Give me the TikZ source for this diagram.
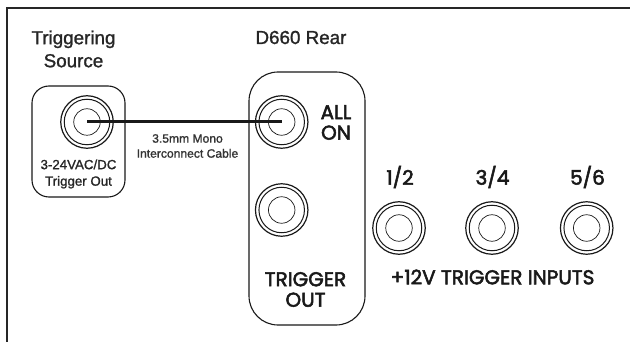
\documentclass[tikz,border=0pt]{standalone}
\usepackage{fontspec}
\newfontfamily\sansf[FakeBold=1.3]{Liberation Sans}
\newfontfamily\geo[FakeBold=2.6]{Poppins}
\tikzset{
 jackouter/.style={circle,draw=black!90,line width=1.2pt,minimum size=52.5pt,inner sep=0pt},
 jackmid/.style={circle,draw=black!90,line width=1pt,minimum size=45.5pt,inner sep=0pt},
 jackinner/.style={circle,draw=black!90,line width=0.7pt,minimum size=26.5pt,inner sep=0pt},
 panel/.style={draw=black!90,line width=1.1pt,rounded corners=#1},
 head/.style={font=\sansf\fontsize{18.8}{23}\selectfont,text=black!85,align=center,inner sep=0pt},
 small/.style={font=\sansf\fontsize{13.3}{16.5}\selectfont,text=black!85,align=center,inner sep=0pt},
 tiny/.style={font=\sansf\fontsize{12.1}{15}\selectfont,text=black!80,align=center,inner sep=0pt},
 lab/.style={font=\geo\fontsize{20}{20.5}\selectfont,text=black!90,align=center,inner sep=0pt},
}
\newcommand{\jack}[2]{%
 \node[jackouter] (#1) at (#2) {};
 \node[jackmid] (#1m) at (#2) {};
 \node[jackinner] (#1i) at (#2) {};
}
\begin{document}
\begin{tikzpicture}[x=1pt,y=-1pt]
\useasboundingbox (0,0) rectangle (630,342);
\coordinate (fa) at (7,342);
\coordinate (fb) at (7,8);
\coordinate (fc) at (630,8);
\draw[line width=2.6pt,black!85] (fa) -- (fb) -- (fc);
\draw[panel=17pt] (32,86) rectangle (125,197);
\draw[panel=29pt] (249,72) rectangle (365,325);
\jack{src}{87,122}
\jack{allon}{281.7,122}
\jack{low}{281.7,210}
\jack{ia}{399,228}
\jack{ib}{492,228}
\jack{ic}{586.7,228}
\draw[line width=3pt,black!90] (src.center) -- (allon.center);
\node[head] (t1) at (73.5,49) {Triggering\\Source};
\node[head] (t2) at (301,37.5) {D660 Rear};
\node[small] (t3) at (78.5,174) {3-24VAC/DC\\Trigger Out};
\node[tiny] (t4) at (187.5,146) {3.5mm Mono\\Interconnect Cable};
\node[lab] (t5) at (336,122.5) {ALL\\ON};
\node[lab] (t6) at (305.5,289.5) {TRIGGER\\OUT};
\node[lab] (t7) at (400,177) {1/2};
\node[lab] (t8) at (492.5,177) {3/4};
\node[lab] (t9) at (587.5,177) {5/6};
\node[lab] (t10) at (492.5,277) {+12V TRIGGER INPUTS};
\end{tikzpicture}
\end{document}
